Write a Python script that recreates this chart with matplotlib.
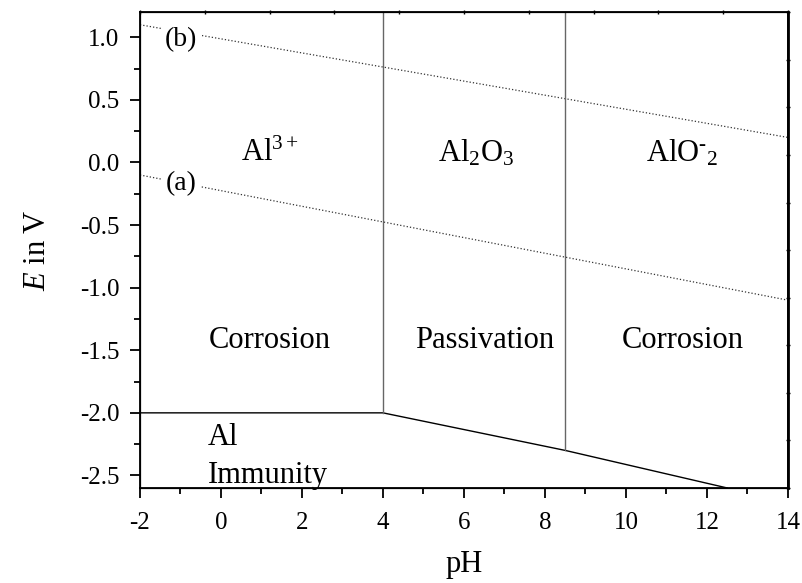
import matplotlib
matplotlib.use("Agg")
import matplotlib.pyplot as plt
from matplotlib.ticker import MultipleLocator, FormatStrFormatter

plt.rcParams['font.family'] = ['Liberation Serif', 'DejaVu Serif']
plt.rcParams['mathtext.fontset'] = 'custom'
plt.rcParams['mathtext.rm'] = 'Liberation Serif'
plt.rcParams['mathtext.it'] = 'Liberation Serif:italic'
plt.rcParams['axes.unicode_minus'] = False

# water stability lines (a) and (b)
ph_water = [-2, 14]
e_line_a = [-0.1, -1.1]
e_line_b = [1.1, 0.2]

# metal / oxide boundary
ph_low = [-2, 4, 8.5, 12.5]
e_low = [-2.0, -2.0, -2.3, -2.6]

# vertical boundaries (pH, lower end)
ph_vert = [4, 8.5]
e_vert_low = [-2.0, -2.3]

region_species = ["Al$^{3+}$", "Al$_2$O$_3$", r"AlO$^{\text{-}}$$_2$"]
region_species_ph = [1.2, 6.3, 11.4]
region_state = ["Corrosion", "Passivation", "Corrosion"]
region_state_ph = [1.2, 6.5, 11.4]

xmin, xmax = -2, 14
ymin, ymax = -2.6, 1.2

fig = plt.figure(figsize=(8.03, 5.83), dpi=100)
ax = fig.add_axes([0.1743, 0.163, 0.807, 0.816])

ax.plot(ph_water, e_line_a, ls=':', color='#333333', lw=0.9)
ax.plot(ph_water, e_line_b, ls=':', color='#333333', lw=0.9)
ax.plot(ph_low, e_low, color='black', lw=1.0)
for p, lo in zip(ph_vert, e_vert_low):
    ax.plot([p, p], [lo, ymax], color='#666666', lw=1.0)

ax.text(-0.98, 0.98, "(b)", fontsize=20, ha='center', va='center',
        bbox=dict(facecolor='white', edgecolor='none', pad=3))
ax.text(-0.98, -0.17, "(a)", fontsize=20, ha='center', va='center',
        bbox=dict(facecolor='white', edgecolor='none', pad=3))

for s, p in zip(region_species, region_species_ph):
    ax.text(p, 0.07, s, fontsize=22, ha='center', va='center')
for s, p in zip(region_state, region_state_ph):
    ax.text(p, -1.42, s, fontsize=22, ha='center', va='center')
ax.text(-0.32, -2.2, "Al", fontsize=22, ha='left', va='center')
ax.text(-0.32, -2.5, "Immunity", fontsize=22, ha='left', va='center')

ax.set_xlim(xmin, xmax)
ax.set_ylim(ymin, ymax)
ax.xaxis.set_major_locator(MultipleLocator(2))
ax.xaxis.set_minor_locator(MultipleLocator(1))
ax.yaxis.set_major_locator(MultipleLocator(0.5))
ax.yaxis.set_minor_locator(MultipleLocator(0.25))
ax.yaxis.set_major_formatter(FormatStrFormatter('%.1f'))
ax.tick_params(which='major', direction='out', length=7, width=1.3, labelsize=18)
ax.tick_params(axis='x', which='major', pad=10)
ax.tick_params(axis='y', which='major', pad=8)
ax.tick_params(which='minor', direction='out', length=4, width=1.3)
for sp in ax.spines.values():
    sp.set_linewidth(1.3)

ax.set_xlabel("pH", fontsize=22, labelpad=12)
ax.set_ylabel("$E$ in V", fontsize=22, labelpad=20)

# small ticks on top and right
axt = ax.twiny()
axt.set_xlim(0, 10)
axt.set_xticks(range(11))
axt.tick_params(direction='inout', length=3, width=1, labeltop=False)
axr = ax.twinx()
axr.set_ylim(0, 10)
axr.set_yticks(range(11))
axr.tick_params(direction='inout', length=3, width=1, labelright=False)
axr.spines['right'].set_linewidth(2)

fig.savefig("out.png", dpi=100)
